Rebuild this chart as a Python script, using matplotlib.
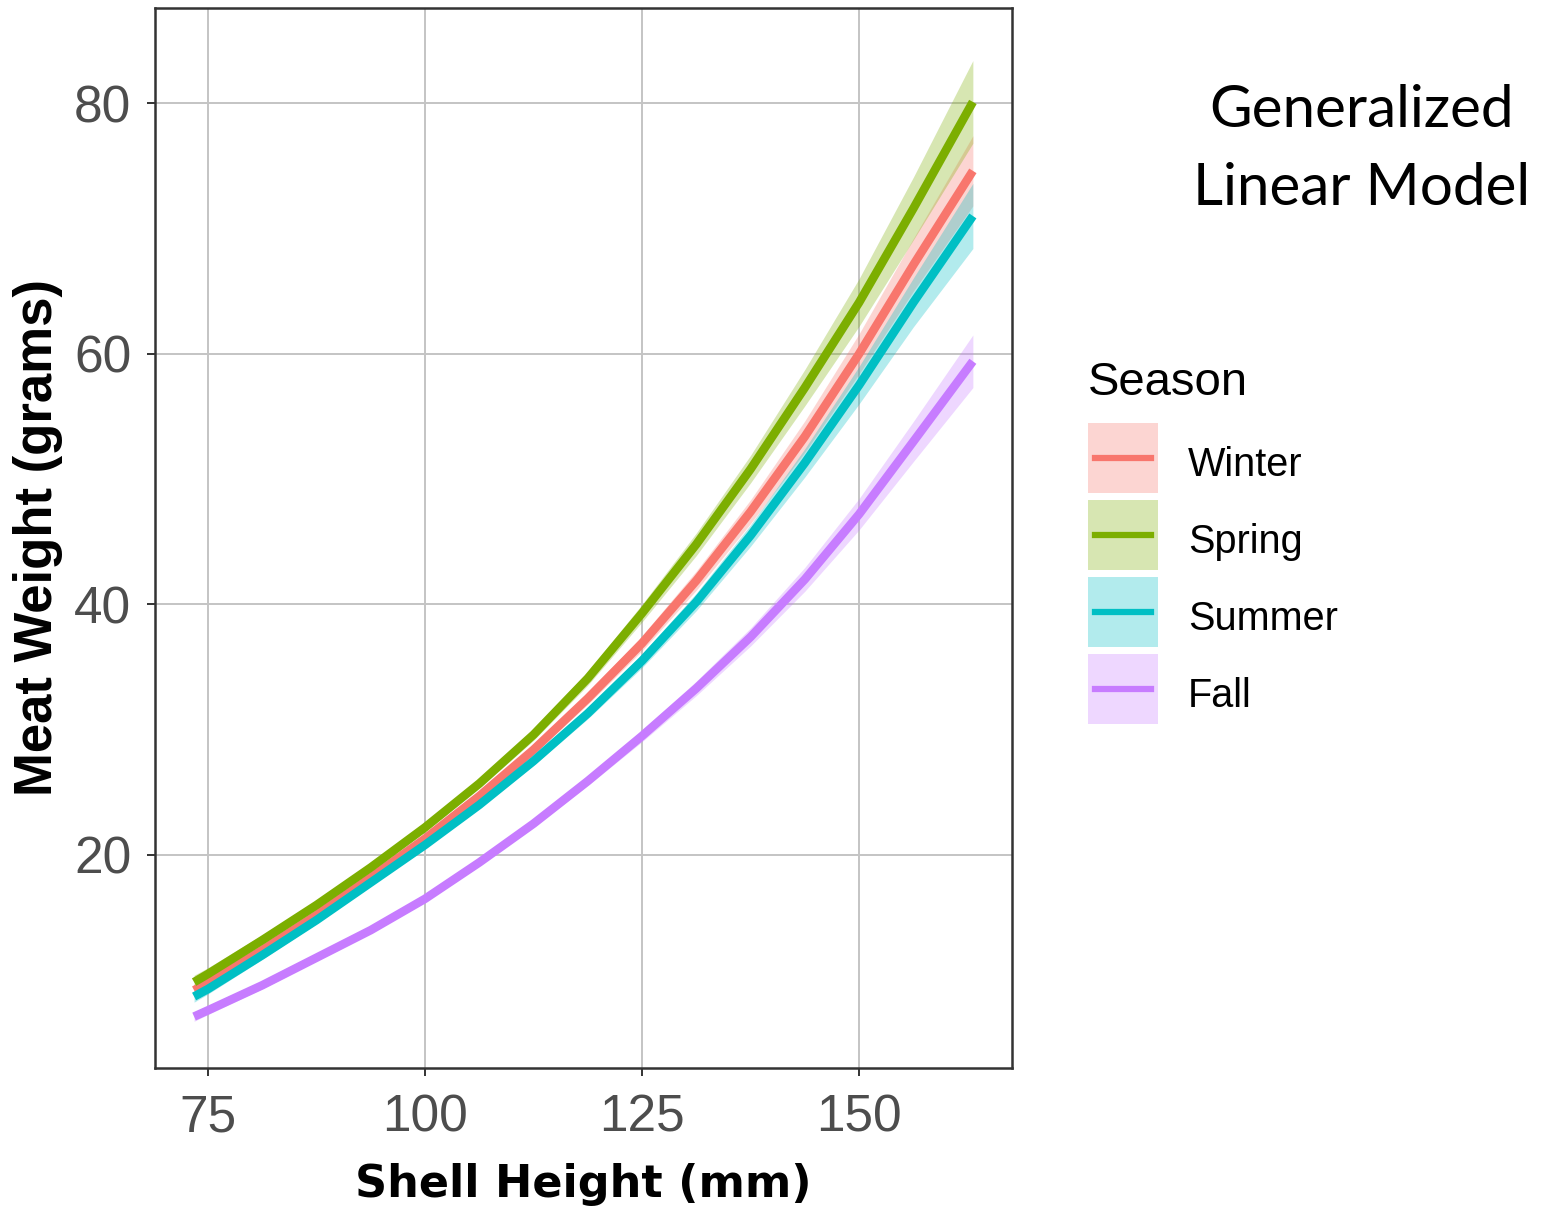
import matplotlib.pyplot as plt
from matplotlib.lines import Line2D
from matplotlib.patches import Patch
from matplotlib.legend_handler import HandlerTuple, HandlerLine2D

# shell height (mm) where the fitted curves were read
shell_height = [73.4, 75, 81.25, 87.5, 93.75, 100, 106.25, 112.5,
                118.75, 125, 131.25, 137.5, 143.75, 150, 156.25, 163.1]

# fitted meat weight (g) per season
winter = [9.2, 9.8, 12.4, 15.2, 18.2, 21.3, 24.7, 28.4,
          32.5, 36.9, 41.9, 47.4, 53.4, 60.0, 67.1, 74.6]
spring = [9.85, 10.5, 13.2, 16.0, 19.0, 22.2, 25.7, 29.6,
          34.1, 39.3, 44.8, 50.8, 57.3, 64.1, 71.6, 80.1]
summer = [8.7, 9.3, 12.0, 14.8, 17.8, 20.8, 24.0, 27.5,
          31.3, 35.5, 40.2, 45.5, 51.3, 57.5, 64.1, 71.0]
fall = [7.1, 7.6, 9.6, 11.8, 14.0, 16.5, 19.4, 22.5,
        25.9, 29.5, 33.3, 37.4, 42.0, 47.2, 53.0, 59.4]

# half width of the confidence ribbon
winter_ci = [0.5, 0.45, 0.36, 0.31, 0.29, 0.3, 0.33, 0.38,
             0.47, 0.6, 0.77, 0.95, 1.25, 1.6, 2.1, 2.8]
spring_ci = [0.55, 0.5, 0.42, 0.36, 0.34, 0.35, 0.38, 0.45,
             0.55, 0.7, 0.9, 1.1, 1.45, 1.9, 2.5, 3.3]
summer_ci = [0.45, 0.4, 0.33, 0.28, 0.27, 0.27, 0.3, 0.35,
             0.43, 0.55, 0.7, 0.86, 1.13, 1.5, 1.95, 2.6]
fall_ci = [0.38, 0.34, 0.28, 0.24, 0.22, 0.23, 0.25, 0.29,
           0.36, 0.46, 0.58, 0.72, 0.95, 1.25, 1.6, 2.1]

seasons = ["Winter", "Spring", "Summer", "Fall"]
fits = [winter, spring, summer, fall]
cis = [winter_ci, spring_ci, summer_ci, fall_ci]
colors = ["#F8766D", "#7CAE00", "#00BFC4", "#C77CFF"]

x_ticks = [75, 100, 125, 150]
y_ticks = [20, 40, 60, 80]


class KeyLine(HandlerLine2D):
    # keep the key line in the vertical middle of the ribbon box
    def create_artists(self, legend, orig_handle, xdescent, ydescent,
                       width, height, fontsize, trans):
        return super().create_artists(legend, orig_handle, xdescent, 2 * ydescent,
                                      width, height, fontsize, trans)


fig = plt.figure(figsize=(15.44, 12.07), dpi=100)
ax = fig.add_axes([0.1004, 0.1152, 0.5550, 0.8782])

for name, y, ci, col in zip(seasons, fits, cis, colors):
    lo = [a - b for a, b in zip(y, ci)]
    hi = [a + b for a, b in zip(y, ci)]
    ax.fill_between(shell_height, lo, hi, color=col, alpha=0.3, lw=0)
    ax.plot(shell_height, y, color=col, lw=6.2, solid_capstyle="butt",
            solid_joinstyle="round")

ax.set_xlim(68.9, 167.6)
ax.set_ylim(3.0, 87.6)
ax.set_xticks(x_ticks)
ax.set_yticks(y_ticks)
ax.grid(True, color="#C4C4C4", lw=1.4)
ax.set_axisbelow(True)
for s in ax.spines.values():
    s.set_color("#333333")
    s.set_linewidth(1.8)
ax.tick_params(direction="out", length=6, width=1.4, color="#333333",
               labelcolor="#4D4D4D", labelsize=37)
ax.tick_params(axis="x", pad=12.5)
ax.tick_params(axis="y", pad=11)
for lab in ax.get_xticklabels() + ax.get_yticklabels():
    lab.set_family("Liberation Sans")

ax.set_xlabel("Shell Height (mm)", fontsize=32, fontweight="bold",
              family="DejaVu Sans", labelpad=15)
ax.set_ylabel("Meat Weight (grams)", fontsize=38, fontweight="bold",
              family="Liberation Sans", labelpad=8)

# legend: title drawn as its own text, keys are ribbon + line
fig.text(0.7047, 0.6727, "Season", fontsize=34, family="Liberation Sans",
         ha="left", va="baseline")
handles = [(Patch(facecolor=c, alpha=0.3, lw=0), Line2D([], [], color=c, lw=4.5))
           for c in colors]
leg = fig.legend(handles, seasons, loc="upper left", bbox_to_anchor=(0.7047, 0.6495),
                 frameon=False, prop={"family": "Liberation Sans", "size": 28.5},
                 handler_map={tuple: HandlerTuple(ndivide=1, ypad=0),
                              Line2D: KeyLine(numpoints=2, marker_pad=0.18)},
                 handlelength=1.77, handleheight=2.34, labelspacing=0.18,
                 handletextpad=0.76, borderpad=0, borderaxespad=0)
for t in leg.get_texts():
    t.set_y(-6)

fig.text(0.8821, 1 - 127 / 1207, "Generalized", ha="center", va="baseline",
         fontsize=42, family="Lato")
fig.text(0.8821, 1 - 205 / 1207, "Linear Model", ha="center", va="baseline",
         fontsize=42, family="Lato")

fig.savefig("out.png", dpi=100)
